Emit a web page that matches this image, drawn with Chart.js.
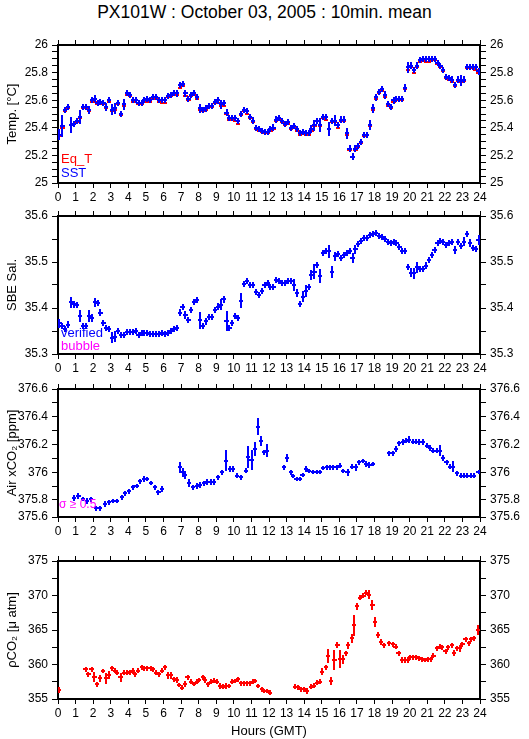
<!DOCTYPE html>
<html>
<head>
<meta charset="utf-8">
<script src="https://cdn.jsdelivr.net/npm/chart.js@4/dist/chart.umd.min.js"></script>
<style>
body { margin: 0; background: #fff; width: 529px; height: 739px; position: relative; overflow: hidden; font-family: "Liberation Sans", Arial, sans-serif; }
#title { position: absolute; left: 0; top: 0; width: 529px; text-align: center; font-size: 17.5px; line-height: 24px; }
.panel { position: absolute; left: 0; }
.note { position: absolute; font-size: 13px; line-height: 13px; z-index: 5; }
</style>
</head>
<body>
<div id="title">PX101W : October 03, 2005 : 10min. mean</div>
<canvas class="panel" id="c1" width="529" height="175" style="top:30px"></canvas>
<canvas class="panel" id="c2" width="529" height="175" style="top:201px"></canvas>
<canvas class="panel" id="c3" width="529" height="165" style="top:374px"></canvas>
<canvas class="panel" id="c4" width="529" height="193" style="top:546px"></canvas>
<div class="note" style="left:61px;top:152px;color:#f00">Eq_T</div>
<div class="note" style="left:61px;top:166px;color:#00f">SST</div>
<div class="note" style="left:61px;top:326px;color:#00f">verified</div>
<div class="note" style="left:61px;top:339px;color:#f0f">bubble</div>
<div class="note" style="left:59px;top:498px;color:#f0f;font-size:12px;line-height:12px">σ ≥ 0.5</div>
<script>
// 10-minute slots for the underway data (hour at middle of each slot)
var Slots = [];
for (var i = 0; i < 144; i++) Slots.push((i + 0.5) / 6);

// Temperature [degC]
var SST = [25.35,25.41,25.53,25.55,25.42,25.43,25.45,25.48,25.55,25.55,
  25.53,25.60,25.61,25.58,25.59,25.58,25.55,25.60,25.53,25.54,
  25.58,25.50,25.57,25.65,25.64,25.60,25.60,25.58,25.58,25.60,
  25.61,25.60,25.62,25.62,25.60,25.60,25.60,25.63,25.64,25.65,
  25.65,25.71,25.72,25.65,25.61,25.64,25.65,25.62,25.54,25.53,
  25.54,25.56,25.56,25.59,25.60,25.57,25.58,25.51,25.47,25.47,
  25.47,25.45,25.50,25.53,25.52,25.48,25.45,25.40,25.39,25.38,
  25.37,25.37,25.39,25.40,25.46,25.47,25.45,25.43,25.44,25.40,
  25.41,25.39,25.36,25.37,25.36,25.36,25.39,25.42,25.45,25.42,
  25.48,25.48,25.39,25.45,25.45,25.42,25.46,25.46,25.36,25.25,
  25.19,25.25,25.27,25.30,25.35,25.35,25.42,25.54,25.62,25.66,
  25.68,25.64,25.57,25.55,25.60,25.61,25.61,25.61,25.69,25.84,
  25.85,25.82,25.85,25.89,25.90,25.90,25.90,25.90,25.90,25.87,
  25.85,25.82,25.77,25.76,25.75,25.71,25.75,25.74,25.75,25.84,
  25.84,25.84,25.84,25.81];
var SST_Err = [.04,.08,.022,.022,.06,.022,.022,.05,.022,.022,
  .03,.022,.025,.022,.022,.022,.03,.022,.04,.04,
  .022,.022,.04,.022,.022,.022,.022,.022,.022,.022,
  .022,.022,.022,.022,.022,.022,.022,.022,.022,.022,
  .025,.022,.022,.025,.022,.022,.022,.022,.035,.022,
  .022,.022,.022,.022,.025,.035,.022,.025,.022,.022,
  .022,.022,.025,.022,.022,.022,.025,.022,.022,.022,
  .022,.022,.022,.025,.022,.022,.022,.022,.022,.022,
  .022,.022,.022,.022,.022,.022,.03,.04,.022,.05,
  .022,.022,.05,.022,.04,.022,.022,.022,.04,.025,
  .025,.022,.022,.022,.022,.022,.035,.035,.025,.022,
  .022,.03,.022,.022,.025,.022,.022,.022,.03,.04,
  .025,.022,.025,.022,.022,.022,.022,.022,.022,.022,
  .022,.022,.022,.022,.022,.022,.022,.04,.022,.022,
  .022,.022,.022,.025];
var Eq_T = [25.34,25.40,25.52,25.54,25.42,25.43,25.44,25.47,25.54,25.54,
  25.52,25.59,25.59,25.57,25.58,25.57,25.54,25.59,25.52,25.53,
  25.57,25.49,25.56,25.64,25.63,25.59,25.60,25.57,25.57,25.59,
  25.59,25.59,25.61,25.61,25.59,25.58,25.58,25.62,25.63,25.64,
  25.64,25.69,25.70,25.63,25.60,25.63,25.64,25.61,25.53,25.52,
  25.53,25.55,25.55,25.58,25.58,25.56,25.56,25.50,25.46,25.46,
  25.45,25.43,25.49,25.52,25.50,25.47,25.44,25.39,25.38,25.37,
  25.36,25.36,25.38,25.39,25.45,25.46,25.44,25.42,25.43,25.39,
  25.40,25.38,25.35,25.36,25.35,25.35,25.38,25.41,25.45,25.41,
  25.47,25.46,25.39,25.44,25.44,25.40,25.45,25.45,25.35,25.24,
  25.19,25.24,25.26,25.29,25.34,25.35,25.41,25.53,25.61,25.65,
  25.67,25.62,25.56,25.54,25.59,25.60,25.60,25.60,25.68,25.82,
  25.84,25.80,25.84,25.88,25.89,25.88,25.88,25.89,25.89,25.86,
  25.84,25.81,25.76,25.75,25.73,25.70,25.74,25.73,25.74,25.83,
  25.83,25.83,25.82,25.80];

// SBE salinity
var Salinity = [35.367,35.360,35.355,35.364,35.412,35.408,35.407,35.383,35.360,35.360,
  35.383,35.378,35.412,35.410,35.390,35.367,35.356,35.355,35.335,35.338,
  35.351,35.342,35.342,35.347,35.348,35.347,35.349,35.342,35.345,35.345,
  35.345,35.344,35.344,35.344,35.344,35.345,35.344,35.345,35.351,35.354,
  35.356,35.390,35.403,35.385,35.374,35.396,35.412,35.418,35.373,35.360,
  35.371,35.380,35.380,35.396,35.403,35.407,35.419,35.371,35.356,35.367,
  35.383,35.378,35.416,35.452,35.458,35.450,35.450,35.434,35.429,35.437,
  35.450,35.455,35.445,35.445,35.461,35.459,35.454,35.454,35.459,35.458,
  35.450,35.432,35.408,35.424,35.436,35.445,35.472,35.479,35.494,35.470,
  35.520,35.523,35.523,35.479,35.512,35.517,35.508,35.515,35.519,35.523,
  35.508,35.528,35.539,35.546,35.552,35.553,35.559,35.560,35.562,35.557,
  35.555,35.549,35.543,35.541,35.544,35.542,35.532,35.524,35.524,35.490,
  35.477,35.476,35.489,35.484,35.484,35.492,35.505,35.515,35.526,35.541,
  35.546,35.543,35.537,35.541,35.543,35.526,35.544,35.535,35.544,35.560,
  35.541,35.531,35.528,35.548];
var Salinity_Err = [.01,.0065,.0065,.007,.013,.008,.0065,.013,.0065,.0065,
  .013,.008,.009,.0065,.008,.0065,.0065,.0065,.012,.012,
  .0065,.0065,.0065,.0065,.0065,.0065,.0065,.0065,.0065,.0065,
  .0065,.0065,.0065,.0065,.0065,.0065,.0065,.0065,.0065,.0065,
  .0065,.008,.0065,.008,.007,.0065,.0065,.0065,.018,.0065,
  .007,.0065,.0065,.0065,.008,.012,.008,.022,.0065,.007,
  .0065,.0065,.017,.0065,.0065,.0065,.0065,.0065,.0065,.0065,
  .0065,.0065,.0065,.0065,.0065,.0065,.0065,.0065,.0065,.0065,
  .014,.009,.0065,.012,.013,.0065,.011,.016,.0065,.015,
  .0065,.0065,.015,.013,.009,.0065,.0065,.0065,.0065,.0065,
  .011,.01,.0065,.0065,.0065,.0065,.0065,.0065,.0065,.0065,
  .0065,.0065,.0065,.0065,.0065,.0065,.0065,.0065,.0065,.0065,
  .009,.012,.012,.0065,.0065,.008,.0065,.0065,.0065,.0065,
  .0065,.0065,.0065,.0065,.0065,.009,.007,.0065,.01,.0065,
  .009,.0065,.0065,.01];

// Air xCO2 [ppm]
var Air_Hours = [0.91,1.16,1.40,1.67,1.86,2.16,2.39,2.69,2.92,3.15,3.37,3.62,3.81,4.02,4.25,4.47,4.66,4.89,5.08,5.27,5.52,5.71,5.93,
  6.94,7.09,7.22,7.47,7.66,7.89,8.08,8.30,8.49,8.68,8.87,9.12,9.31,9.55,9.78,9.97,10.20,10.39,10.69,10.82,11.01,11.20,11.39,11.53,11.72,11.87,
  12.87,13.04,13.23,13.38,13.57,13.76,13.91,14.10,14.29,14.52,14.71,14.90,15.09,15.28,15.47,15.66,15.85,16.04,16.23,16.47,16.70,16.95,17.14,17.33,17.52,17.71,17.90,
  18.84,19.03,19.22,19.41,19.60,19.79,19.98,20.17,20.36,20.55,20.78,20.97,21.16,21.35,21.54,21.73,21.91,22.10,22.29,22.48,22.71,22.90,23.09,23.28,23.47,23.66,23.92];
var Air_xCO2 = [375.813,375.830,375.806,375.794,375.804,375.739,375.739,375.770,375.782,375.794,375.790,375.818,375.847,375.861,375.890,375.902,375.934,375.951,375.951,375.922,375.890,375.854,375.878,
  376.035,375.999,375.982,375.920,375.890,375.902,375.907,375.920,375.930,375.930,375.930,375.963,375.999,376.083,376.023,376.023,375.975,375.963,376.011,376.112,376.088,376.167,376.329,376.223,376.143,376.155,
  376.035,376.102,375.999,375.975,375.951,375.951,375.982,376.023,376.006,375.999,375.999,375.999,376.028,376.035,376.035,376.035,376.035,376.047,376.011,375.999,376.040,376.035,376.071,376.083,376.059,376.052,376.059,
  376.136,376.136,376.167,376.208,376.216,376.228,376.233,376.220,376.220,376.216,376.216,376.192,376.175,376.155,376.155,376.155,376.102,376.071,376.040,376.040,375.992,375.975,375.975,375.975,375.975,375.975,375.999];
var Air_Err = [.02,.02,.015,.02,.02,.02,.02,.02,.015,.015,.015,.02,.015,.015,.02,.015,.02,.02,.015,.015,.015,.02,.02,
  .04,.03,.03,.03,.02,.02,.02,.02,.02,.02,.02,.02,.02,.075,.02,.02,.02,.02,.02,.08,.07,.05,.06,.035,.02,.045,
  .02,.03,.02,.015,.015,.015,.015,.02,.015,.015,.015,.015,.015,.02,.02,.02,.02,.02,.015,.025,.02,.025,.02,.015,.02,.02,.015,
  .02,.02,.02,.02,.02,.02,.025,.02,.02,.02,.02,.02,.02,.02,.02,.04,.02,.02,.02,.04,.02,.02,.02,.02,.02,.02,.015];

// Seawater pCO2 [uatm]
var PCO2_Hours = [0.04,1.57,1.73,1.91,2.07,2.20,2.39,2.54,2.73,2.88,3.05,3.24,3.37,3.56,3.75,3.91,4.09,4.25,4.38,4.57,
  4.76,4.89,5.08,5.27,5.42,5.57,5.76,5.91,6.09,6.24,6.41,6.60,6.75,6.88,7.03,7.22,7.37,7.55,7.73,7.89,
  8.04,8.23,8.38,8.55,8.70,8.87,9.06,9.21,9.40,9.55,9.74,9.90,10.07,10.22,10.39,10.58,10.73,10.92,11.07,11.20,
  11.39,11.58,11.73,11.91,12.06,13.48,13.63,13.82,13.99,14.18,14.39,14.56,14.75,14.90,15.03,15.22,15.37,15.53,15.72,15.89,
  16.04,16.23,16.38,16.51,16.70,16.85,17.02,17.18,17.37,17.52,17.69,17.88,18.03,18.18,18.35,18.54,18.84,19.03,19.20,19.37,
  19.55,19.73,19.89,20.02,20.21,20.36,20.53,20.70,20.87,21.02,21.19,21.35,21.54,21.70,21.84,22.04,22.20,22.39,22.52,22.67,
  22.86,23.00,23.18,23.37,23.49,23.66,23.91];
var PCO2 = [356.30,359.29,358.57,359.29,358.23,357.12,357.99,359.05,357.99,358.47,359.43,359.10,358.81,358.13,358.81,358.81,358.86,359.05,358.61,359.10,
  359.58,359.43,359.43,359.43,359.29,358.81,358.57,359.10,359.58,358.47,358.47,357.84,357.75,357.02,356.64,357.17,358.13,357.51,357.17,357.51,
  357.75,358.13,357.75,357.12,357.51,357.65,357.51,356.88,356.78,356.88,356.88,357.51,357.60,357.84,357.27,357.27,357.27,357.27,357.51,357.60,
  356.88,356.40,356.16,356.16,355.92,356.78,356.69,356.40,356.40,356.16,356.78,356.93,357.36,357.51,358.95,359.58,361.20,357.65,360.64,362.81,
  360.74,360.74,361.60,362.81,363.77,365.70,368.45,369.70,369.94,370.42,370.13,368.59,366.18,364.25,363.29,362.81,363.05,362.95,362.57,361.60,
  360.64,360.64,360.64,361.02,361.02,361.02,360.88,360.78,360.64,360.78,360.74,361.27,362.33,362.57,362.47,361.94,362.47,362.81,361.69,362.33,
  362.33,362.95,363.63,363.05,363.63,363.77,364.98];
var PCO2_Err = [.5,.35,.35,.35,.7,.35,.5,.35,.8,.6,.35,.35,.35,.7,.35,.35,.35,.4,.35,.35,
  .35,.35,.35,.35,.35,.35,.35,.35,.4,.5,.5,.4,.4,.35,.35,.5,.35,.35,.35,.35,
  .35,.35,.5,.35,.35,.35,.35,.4,.35,.4,.35,.35,.35,.35,.35,.35,.35,.35,.35,.35,
  .35,.35,.35,.35,.35,.35,.35,.35,.35,.4,.4,.4,.35,.4,.5,.4,1.0,.6,1.5,.4,
  1.3,.6,.4,.5,.6,1.5,.5,.4,.35,.35,.6,.7,.7,.4,.4,.35,.35,.35,.35,.4,
  .4,.4,.4,.35,.4,.4,.35,.35,.35,.35,.35,.4,.4,.35,.35,.35,.35,.35,.4,.35,
  .5,.35,.35,.4,.4,.4,.7];

var FONT = '"Liberation Sans", Arial, sans-serif';

function pts(hours, vals, errs) {
  return vals.map(function (v, i) { return { x: hours[i], y: v, e: errs ? errs[i] : 0 }; });
}

// draws each record as a cross: time bar + std. dev. bar, snapped to whole pixels
var crossPlugin = {
  id: 'crosses',
  afterDatasetsDraw: function (chart) {
    var ctx = chart.ctx, a = chart.chartArea;
    var xs = chart.scales.x, ys = chart.scales.y;
    var R = Math.round;
    ctx.save();
    ctx.beginPath();
    ctx.rect(a.left, a.top, a.right - a.left, a.bottom - a.top);
    ctx.clip();
    ctx.lineWidth = 2;
    ctx.lineCap = 'butt';
    chart.data.datasets.forEach(function (ds, k) {
      var meta = chart.getDatasetMeta(k);
      ctx.strokeStyle = ds.borderColor;
      ctx.beginPath();
      ds.data.forEach(function (p, i) {
        var el = meta.data[i];
        var y = R(el.y), x = R(el.x);
        ctx.moveTo(R(xs.getPixelForValue(p.x - ds.halfWidth)), y);
        ctx.lineTo(R(xs.getPixelForValue(p.x + ds.halfWidth)), y);
        if (p.e) {
          ctx.moveTo(x, R(ys.getPixelForValue(p.y - p.e)));
          ctx.lineTo(x, R(ys.getPixelForValue(p.y + p.e)));
        }
      });
      ctx.stroke();
    });
    ctx.restore();
  }
};

function makePanel(id, datasets, o) {
  var tickFont = { family: FONT, size: 12 };
  function yAxis(pos) {
    return {
      type: 'linear', position: pos, min: o.min, max: o.max,
      afterFit: function (s) { s.width = pos === 'left' ? 58 : 49; },
      ticks: {
        stepSize: o.minor, autoSkip: false, maxTicksLimit: 100, color: '#000', font: tickFont, padding: 4,
        callback: function (v, i) {
          if (i === 0 && o.bottomLabel) return o.bottomLabel;
          var r = v / o.major;
          return Math.abs(r - Math.round(r)) < 1e-6 ? String(+v.toFixed(2)) : '';
        }
      },
      grid: { drawOnChartArea: false, tickLength: 6, color: '#000', lineWidth: 1 },
      border: { display: true, color: '#000', width: 2 },
      title: { display: pos === 'left', text: o.title, color: '#000', font: { family: FONT, size: 13 }, padding: { top: 5, bottom: 0 } }
    };
  }
  function xAxis(pos) {
    return {
      type: 'linear', position: pos, min: 0, max: 24,
      afterFit: function (s) { s.height = pos === 'top' ? 15 : o.bottom; },
      ticks: {
        display: pos === 'bottom', stepSize: 1, autoSkip: false, maxTicksLimit: 100, maxRotation: 0,
        color: '#000', font: tickFont, padding: 2
      },
      grid: { drawOnChartArea: false, tickLength: 5, color: '#000', lineWidth: 1 },
      border: { display: true, color: '#000', width: 2 },
      title: { display: pos === 'bottom' && !!o.xTitle, text: o.xTitle || '', color: '#000', font: { family: FONT, size: 13 }, padding: { top: 0, bottom: 0 } }
    };
  }
  return new Chart(document.getElementById(id), {
    type: 'scatter',
    data: { datasets: datasets },
    options: {
      responsive: false, animation: false, devicePixelRatio: 1,
      layout: { padding: 0 },
      plugins: { legend: { display: false }, tooltip: { enabled: false } },
      elements: { point: { radius: 0 } },
      scales: { x: xAxis('bottom'), x2: xAxis('top'), y: yAxis('left'), y2: yAxis('right') }
    },
    plugins: [crossPlugin]
  });
}

makePanel('c1', [
  { label: 'Eq_T', data: pts(Slots, Eq_T, null), borderColor: '#ff0000', halfWidth: 0.12 },
  { label: 'SST', data: pts(Slots, SST, SST_Err), borderColor: '#0000ff', halfWidth: 0.12 }
], { min: 25, max: 26, minor: 0.05, major: 0.2, title: 'Temp. [°C]', bottom: 22 });

makePanel('c2', [
  { label: 'verified', data: pts(Slots, Salinity, Salinity_Err), borderColor: '#0000ff', halfWidth: 0.12 }
], { min: 35.3, max: 35.6, minor: 0.05, major: 0.1, title: 'SBE Sal.', bottom: 22 });

makePanel('c3', [
  { label: 'Air xCO2', data: pts(Air_Hours, Air_xCO2, Air_Err), borderColor: '#0000ff', halfWidth: 0.12 }
], { min: 375.677, max: 376.6, minor: 0.1, major: 0.2, bottomLabel: '375.6', title: 'Air xCO₂ [ppm]', bottom: 22 });

makePanel('c4', [
  { label: 'pCO2', data: pts(PCO2_Hours, PCO2, PCO2_Err), borderColor: '#ff0000', halfWidth: 0.12 }
], { min: 355, max: 375, minor: 2.5, major: 5, title: 'ρCO₂ [μ atm]', bottom: 40, xTitle: 'Hours (GMT)' });
</script>
</body>
</html>
